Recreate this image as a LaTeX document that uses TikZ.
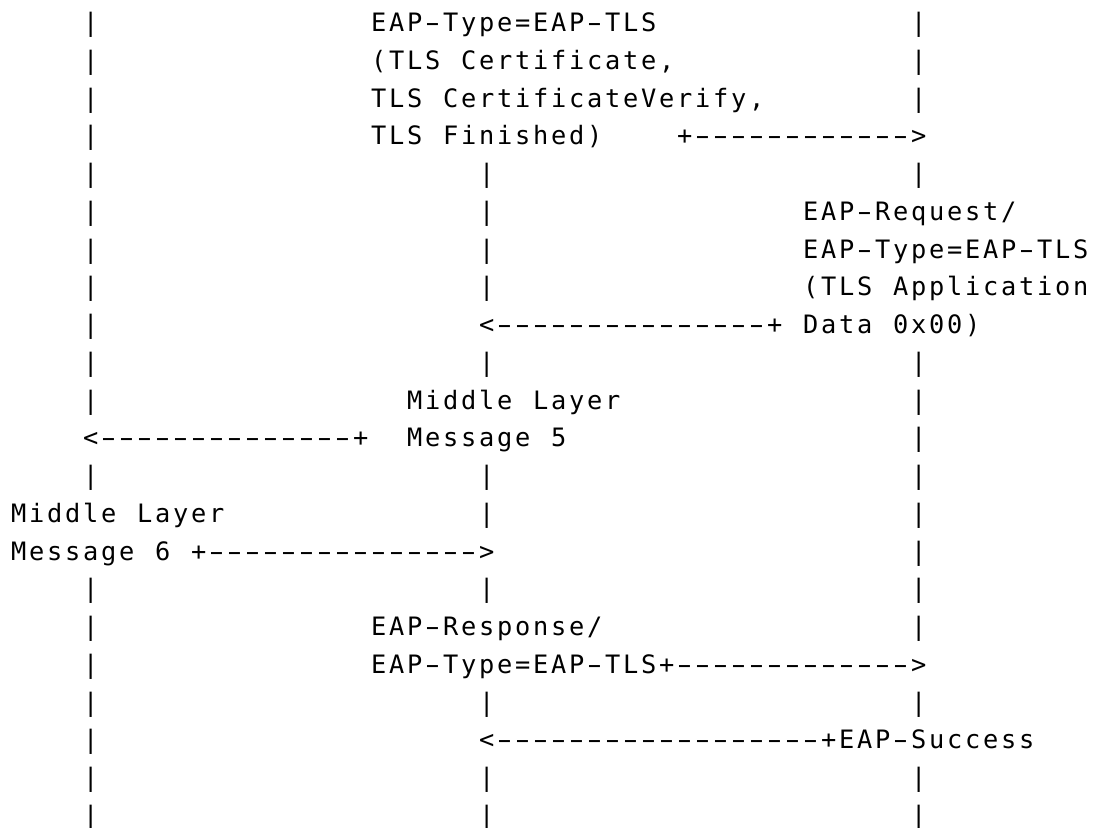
\documentclass[tikz,border=0pt]{standalone}
\usepackage{fontspec}
\usepackage{graphicx}
\newfontfamily\asciifont{DejaVu Sans Mono}
\newlength\cellw
\setlength\cellw{13.5pt}
% set a string on a fixed character grid, one cell per character;
% hyphens are drawn a little wider so dashed arrows read as lines
\ExplSyntaxOn
\NewDocumentCommand\cells{m}{
  \str_map_inline:nn{#1}{
    \str_if_eq:nnTF{##1}{-}
      {\makebox[\cellw][c]{\scalebox{1.7}[1]{-}}}
      {\makebox[\cellw][c]{##1}}
  }
}
\ExplSyntaxOff
\tikzset{
  txt/.style={anchor=base west, inner sep=0pt, outer sep=0pt,
    font=\asciifont\fontsize{19pt}{22pt}\selectfont, text=black}
}
\begin{document}
\begin{tikzpicture}[x=13.5pt, y=-28.3125pt]
\useasboundingbox (-0.5389,-0.8397) rectangle (60.239,21.094);
\fill[white] (-0.5389,-0.8397) rectangle (60.239,21.094);

% lifelines
\foreach \r in {0,...,10,12,15,16,17,18,19,20,21}
  \node[txt] (left\r) at (4,\r) {\cells{|}};
\foreach \r in {4,5,6,7,9,12,13,15,18,20,21}
  \node[txt] (mid\r) at (26,\r) {\cells{|}};
\foreach \r in {0,1,2,4,9,10,11,12,13,14,15,16,18,20,21}
  \node[txt] (right\r) at (50,\r) {\cells{|}};

% message labels and arrows
\node[txt] (t0)  at (20,0)  {\cells{EAP-Type=EAP-TLS}};
\node[txt] (t1)  at (20,1)  {\cells{(TLS Certificate,}};
\node[txt] (t2)  at (20,2)  {\cells{TLS CertificateVerify,}};
\node[txt] (t3)  at (20,3)  {\cells{TLS Finished)}};
\node[txt] (a3)  at (37,3)  {\cells{+------------>}};
\node[txt] (t5)  at (44,5)  {\cells{EAP-Request/}};
\node[txt] (t6)  at (44,6)  {\cells{EAP-Type=EAP-TLS}};
\node[txt] (t7)  at (44,7)  {\cells{(TLS Application}};
\node[txt] (a8)  at (26,8)  {\cells{<---------------+}};
\node[txt] (t8)  at (44,8)  {\cells{Data 0x00)}};
\node[txt] (t10) at (22,10) {\cells{Middle Layer}};
\node[txt] (a11) at (4,11)  {\cells{<--------------+}};
\node[txt] (t11) at (22,11) {\cells{Message 5}};
\node[txt] (t13) at (0,13)  {\cells{Middle Layer}};
\node[txt] (a14) at (0,14)  {\cells{Message 6 +--------------->}};
\node[txt] (t16) at (20,16) {\cells{EAP-Response/}};
\node[txt] (a17) at (20,17) {\cells{EAP-Type=EAP-TLS+------------->}};
\node[txt] (a19) at (26,19) {\cells{<------------------+EAP-Success}};
\end{tikzpicture}
\end{document}
